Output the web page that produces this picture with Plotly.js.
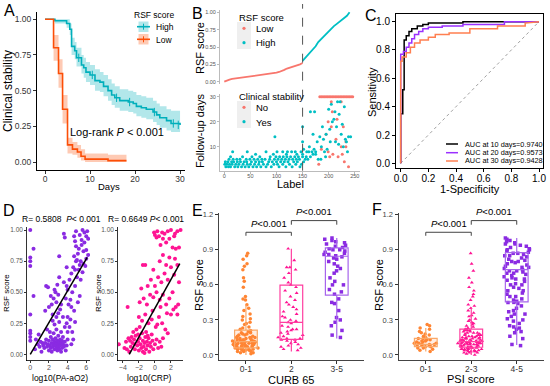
<!DOCTYPE html>
<html><head><meta charset="utf-8">
<script src="https://cdn.plot.ly/plotly-3.0.1.min.js"></script>
<style>html,body{margin:0;padding:0;background:#fff}#chart{width:550px;height:386px}</style>
</head><body><div id="chart"></div>
<script>
// ---------- Panel A: Kaplan-Meier ----------
const kmHighT = [0, 2.2, 4.8, 5.5, 5.9, 6.6, 7.0, 8.1, 8.6, 9.1, 10.0, 11.1, 12.2, 13.0, 14.0, 14.8, 15.5, 16.6, 18.5, 19.6, 20.3, 21.4, 22.5, 24.0, 24.8, 25.5, 27.0, 28.0, 30.0];
const kmHighS = [1.0, 0.99, 0.97, 0.93, 0.81, 0.78, 0.73, 0.68, 0.66, 0.63, 0.61, 0.57, 0.56, 0.53, 0.50, 0.47, 0.45, 0.43, 0.42, 0.41, 0.39, 0.38, 0.37, 0.35, 0.33, 0.31, 0.29, 0.27, 0.26];
const kmHighU = [1.0, 1.0, 1.0, 0.97, 0.87, 0.84, 0.80, 0.75, 0.73, 0.70, 0.68, 0.65, 0.63, 0.61, 0.58, 0.55, 0.53, 0.51, 0.50, 0.49, 0.47, 0.46, 0.45, 0.43, 0.41, 0.39, 0.37, 0.36, 0.35];
const kmHighL = [1.0, 0.97, 0.94, 0.89, 0.75, 0.72, 0.67, 0.62, 0.59, 0.56, 0.54, 0.50, 0.49, 0.46, 0.43, 0.40, 0.38, 0.36, 0.35, 0.34, 0.32, 0.31, 0.30, 0.28, 0.26, 0.24, 0.22, 0.21, 0.20];
const kmLowT = [0, 1.9, 3.0, 3.9, 5.0, 6.1, 7.2, 8.0, 8.9, 14.0, 18.1];
const kmLowS = [1.0, 0.80, 0.62, 0.37, 0.12, 0.09, 0.07, 0.04, 0.02, 0.01, 0.01];
const kmLowU = [1.0, 0.89, 0.72, 0.47, 0.17, 0.14, 0.12, 0.09, 0.06, 0.05, 0.05];
const kmLowL = [1.0, 0.71, 0.52, 0.27, 0.06, 0.05, 0.03, 0.01, 0.0, 0.0, 0.0];
const censorT = [7.5, 10.5, 15.9, 18.8, 24.3, 28.5, 29.6];
const censorS = [0.73, 0.61, 0.45, 0.42, 0.35, 0.27, 0.26];
const kmGroups = ['High', 'Low'];

// ---------- Panel B ----------
const bLowLabel = [0,5,10,15,20,25,30,35,40,45,50,55,60,65,70,75,80,85,90,95,100,105,110,115,120,125,130,135,140,145,150];
const bLowScore = [0.0,0.02,0.03,0.04,0.045,0.05,0.055,0.06,0.065,0.07,0.075,0.08,0.085,0.09,0.095,0.10,0.105,0.11,0.115,0.12,0.13,0.14,0.15,0.17,0.19,0.20,0.21,0.22,0.24,0.25,0.27];
const bHighLabel = [150,155,160,165,170,175,180,185,190,195,200,205,210,215,220,225,230,235,240];
const bHighScore = [0.30,0.34,0.385,0.42,0.46,0.51,0.57,0.61,0.65,0.69,0.73,0.77,0.80,0.83,0.86,0.88,0.91,0.95,1.0];
const bCutoff = 150;
const bNo = [[183,30],[186,30],[189,30],[192,30],[195,30],[198,30],[201,30],[204,30],[207,30],[210,30],[213,30],[216,30],[219,30],[222,30],[225,30],[228,30],[231,30],[234,30],[237,30],[240,30],[243,30],[246,30],
 [205,28],[224,28],[207,24],[216,21],[199,20],[205,18],[214,13],[186,9],[199,8],[224,10],[233,10],[202,6],[208,7],[218,6],[226,7],[181,3],[238,2],[233,12],[230,4],[195,15],[228,18]];
const bYes = [
 [3,2],[8,2],[12,2],[20,2],[26,2],[33,2],[40,2],[47,2],[55,2],[62,2],[70,2],[80,2],[90,2],[105,2],[118,2],[130,2],[145,2],
 [1,3],[5,3],[10,3],[15,3],[22,3],[28,3],[36,3],[44,3],[50,3],[58,3],[66,3],[75,3],[83,3],[95,3],[102,3],[112,3],[125,3],[137,3],[148,3],
 [2,4],[7,4],[14,4],[18,4],[25,4],[31,4],[38,4],[43,4],[52,4],[60,4],[67,4],[73,4],[85,4],[92,4],[100,4],[108,4],[115,4],[122,4],[133,4],[140,4],[152,4],
 [9,5],[17,5],[24,5],[30,5],[42,5],[49,5],[57,5],[64,5],[72,5],[78,5],[87,5],[96,5],[103,5],[110,5],[117,5],[124,5],[131,5],[138,5],[144,5],[155,5],[160,5],
 [12,6],[35,6],[53,6],[68,6],[88,6],[99,6],[106,6],[113,6],[120,6],[127,6],[135,6],[142,6],[150,6],[157,6],[165,6],
 [60,7],[94,7],[119,7],[139,7],[150,7],[170,7],
 [16,8],[44,8],[80,8],[101,8],[112,8],[121,8],[129,8],[136,8],[147,8],[162,8],[175,8],
 [97,14],[150,18],[150,12],[152,9],[158,8],[163,10],[165,24],[170,15],[172,9],[175,7],[178,12],[180,5],[183,14],[186,10],[188,18],[190,13],[192,8],[195,15],[197,9],
 [200,25],[202,17],[205,27],[207,20],[210,21],[212,24],[215,18],[217,28],[220,23],[222,28],[224,15],[226,19],[228,10],[230,26],[232,13],[236,8],[238,14],[242,14],
 [168,8],[185,5],[194,6],[203,12],[213,12],[219,11],[234,12],[173,24]];

// ---------- Panel C: ROC ----------
const roc10X = [0,0,0.015,0.015,0.025,0.025,0.04,0.04,0.06,0.06,0.08,0.08,0.12,0.12,0.16,0.16,0.2,0.2,0.45,0.45,1.0];
const roc10Y = [0,0.35,0.35,0.52,0.52,0.87,0.87,0.90,0.90,0.93,0.93,0.95,0.95,0.97,0.97,0.98,0.98,0.99,0.99,1.0,1.0];
const roc20X = [0,0,0.02,0.02,0.04,0.04,0.06,0.06,0.08,0.08,0.1,0.1,0.13,0.13,0.16,0.16,0.2,0.2,0.3,0.3,0.45,0.45,0.75,0.75,1.0];
const roc20Y = [0,0.77,0.77,0.79,0.79,0.82,0.82,0.85,0.85,0.88,0.88,0.91,0.91,0.93,0.93,0.95,0.95,0.96,0.96,0.97,0.97,0.98,0.98,1.0,1.0];
const roc30X = [0,0,0.01,0.01,0.04,0.04,0.07,0.07,0.1,0.1,0.14,0.14,0.2,0.2,0.25,0.25,0.35,0.35,0.5,0.5,0.7,0.7,0.9,0.9,1.0];
const roc30Y = [0,0.72,0.72,0.75,0.75,0.78,0.78,0.82,0.82,0.85,0.85,0.87,0.87,0.89,0.89,0.91,0.91,0.92,0.92,0.95,0.95,0.97,0.97,0.99,1.0];
const rocLabels = ['AUC at 10 days=0.9740','AUC at 20 days=0.9573','AUC at 30 days=0.9428'];

// ---------- Panel D: correlations ----------
const dPA = [[0,1.0],[0,0.78],[0,0.75],[0,0.71],[0,0.32],[0,0.19],[0,0.17],[0,0.14],[0,0.11],[0.35,0.85],[0.35,0.47],
 [0.5,0.04],[0.6,0.12],[0.8,0.08],[1.0,0.06],[1.1,0.1],[1.3,0.09],[1.4,0.07],[1.5,0.05],[0.9,0.16],[1.2,0.02],
 [1.6,0.09],[1.7,0.12],[1.8,0.06],[1.9,0.08],[2.0,0.03],[2.0,0.11],[2.1,0.07],[2.2,0.14],[2.2,0.05],[2.3,0.09],[2.3,0.02],[2.4,0.12],[2.4,0.06],[2.5,0.08],[2.5,0.17],[2.6,0.04],[2.6,0.1],[2.7,0.13],[2.7,0.07],[2.8,0.05],[2.8,0.09],[2.8,0.2],[2.9,0.11],[2.9,0.03],[3.0,0.08],[3.0,0.15],[3.0,0.06],[3.1,0.1],[3.1,0.04],[3.2,0.12],[3.2,0.07],[3.3,0.02],[3.3,0.09],[3.3,0.18],[3.4,0.11],[3.4,0.05],[3.5,0.08],[3.5,0.14],[3.6,0.06],[3.7,0.1],[3.7,0.22],[3.8,0.03],[3.9,0.07],[4.0,0.12],[3.1,0.26],[2.6,0.24],[3.5,0.3],[3.9,0.25],[4.2,0.22],[4.3,0.28],[4.5,0.18],[4.8,0.26],[4.4,0.08],[4.6,0.12],[4.0,0.18],[1.8,0.2],[2.1,0.18],[2.4,0.27],
 [1.6,0.35],[2.0,0.38],[2.3,0.4],[2.5,0.45],[2.6,0.52],[2.2,0.47],[1.7,0.55],[1.9,0.54],[2.7,0.5],[2.8,0.42],[3.0,0.33],[3.2,0.36],[2.4,0.32],[3.1,0.62],[2.9,0.56],[3.0,0.48],[2.8,0.3],[3.3,0.4],
 [3.8,0.45],[4.0,0.52],[4.2,0.6],[4.4,0.65],[4.1,0.4],[4.5,0.5],[4.6,0.7],[4.8,0.55],[3.6,0.58],[3.9,0.7],[4.3,0.44],[4.7,0.35],[5.0,0.62],[5.1,0.42],[5.3,0.47],[4.9,0.75],[5.2,0.68],[4.0,0.3],[4.4,0.38],[3.9,0.55],
 [3.6,0.97],[3.7,0.94],[4.7,0.95],[4.8,0.91],[4.9,0.99],[5.3,0.96],[5.6,1.0],[5.8,0.98],[6.0,0.95],[6.1,0.99],[6.2,0.93],[4.9,0.87],[5.2,0.85],[5.5,0.88],[5.7,0.83],[6.0,0.84],[6.2,0.8],[4.7,0.79],[5.0,0.76],[5.4,0.75],[5.7,0.73],[5.9,0.71],[5.1,0.81],[5.5,0.92],[5.8,0.9],[5.3,0.72],[4.8,0.68],[5.6,0.66],[6.0,0.77],[5.4,0.6],[3.1,0.79]];
const dCRP = [[-4.5,0.08],[-3.8,0.05],[-3.6,0.1],[-3.2,0.02],[-3.0,0.06],[-3.3,0.13],[-2.8,0.09],[-2.6,0.12],[-2.5,0.04],[-2.4,0.15],[-2.2,0.07],[-2.1,0.1],[-2.0,0.03],[-1.9,0.13],[-1.8,0.08],[-1.7,0.05],[-1.6,0.17],[-1.5,0.11],[-1.4,0.06],[-1.3,0.09],[-1.2,0.14],[-1.1,0.04],[-1.0,0.1],[-0.9,0.07],[-0.8,0.13],[-0.7,0.02],[-0.6,0.09],[-0.5,0.06],[-0.3,0.11],[-0.2,0.04],[0.0,0.08],[0.2,0.12],[0.4,0.05],[-2.7,0.18],[-2.3,0.2],[-1.9,0.22],[-1.5,0.02],[-2.9,0.14],[-3.5,0.04],[-1.1,0.18],[-0.4,0.16],[0.6,0.1],[0.8,0.06],[1.0,0.13],[-3.4,0.38],[-2.1,0.16],[-1.3,0.01],[-0.9,0.15],[-2.5,0.08],[-3.1,0.11],
 [-2.0,0.3],[-1.6,0.27],[-1.2,0.32],[-0.8,0.25],[-0.4,0.28],[0.1,0.22],[0.5,0.3],[0.9,0.25],[1.3,0.2],[1.6,0.17],[2.0,0.32],[2.3,0.36],[-1.9,0.42],[-1.4,0.45],[-1.0,0.4],[-0.6,0.48],[-0.2,0.46],[0.2,0.5],[0.6,0.44],[1.0,0.48],[1.4,0.4],[1.8,0.45],[2.2,0.5],[2.6,0.38],[-1.7,0.53],[-0.3,0.35],[0.7,0.38],[1.5,0.33],[2.8,0.32],[0.3,0.24],
 [-1.5,0.72],[-1.2,0.72],[-0.9,0.55],[-0.5,0.6],[0.0,0.55],[0.4,0.62],[0.8,0.58],[1.2,0.65],[1.6,0.6],[2.0,0.7],[2.4,0.64],[2.8,0.72],[3.0,0.58],[0.6,0.75],[1.0,0.8],[1.8,0.78],[2.5,0.77],[-0.2,0.68],[1.4,0.72],[2.9,0.4],
 [-0.1,0.98],[0.0,0.96],[0.3,0.99],[0.5,0.95],[0.9,0.98],[1.2,0.97],[1.6,0.99],[2.0,1.0],[2.5,0.97],[2.8,0.99],[3.2,1.0],[0.2,0.94],[1.0,0.93],[1.8,0.93],[2.2,0.86],[2.6,0.85],[3.0,0.86],[1.4,0.9],[0.7,0.88],[2.4,0.95]];
const fitPAx = [0.0, 6.1], fitPAy = [0.0, 0.78];
const fitCRPx = [-3.2, 3.1], fitCRPy = [0.0, 0.73];

// ---------- Panel E: CURB 65 ----------
const curbCats = ['0-1','2','3-5'];
const curb01 = [0.01,0.02,0.02,0.03,0.03,0.04,0.04,0.04,0.05,0.05,0.05,0.06,0.06,0.06,0.07,0.07,0.07,0.07,0.08,0.08,0.08,0.08,0.09,0.09,0.09,0.09,0.10,0.10,0.10,0.10,0.11,0.11,0.11,0.11,0.12,0.12,0.12,0.13,0.13,0.13,0.14,0.14,0.15,0.15,0.16,0.16,0.17,0.17,0.18,0.19,0.19,0.20,0.21,0.22,0.23,0.24,0.26,0.27,0.28,0.30,0.31,0.33,0.35,0.38,0.40,0.43,0.47,0.48,0.50,0.58,0.63,0.66,0.73,0.76,0.78,0.82,0.85,0.87,0.05,0.07,0.1,0.12,0.15,0.03,0.08,0.11,0.06,0.09,0.14,0.18];
const curb2 = [0.04,0.05,0.06,0.07,0.08,0.09,0.10,0.11,0.12,0.13,0.14,0.14,0.15,0.16,0.17,0.18,0.19,0.20,0.21,0.22,0.24,0.25,0.27,0.28,0.29,0.30,0.32,0.33,0.35,0.37,0.39,0.41,0.43,0.45,0.47,0.50,0.53,0.55,0.58,0.60,0.62,0.66,0.70,0.73,0.75,0.75,0.91,0.81,0.13,0.22];
const curb35 = [0.15,0.17,0.21,0.25,0.28,0.30,0.32,0.38,0.44,0.48,0.52,0.54,0.56,0.60,0.63,0.66,0.70,0.72,0.74,0.76,0.78,0.80,0.82,0.84,0.85,0.86,0.87,0.88,0.89,0.90,0.91,0.92,0.93,0.94,0.95,0.96,0.97,0.98,0.99,1.0,0.90,0.86,0.83,0.45,0.60];
const curbQ1 = [0.06, 0.134, 0.512], curbMed = [0.114, 0.279, 0.845], curbQ3 = [0.213, 0.597, 0.916];
const curbLo = [0.0, 0.03, 0.142], curbHi = [0.427, 0.91, 1.0];

// ---------- Panel F: PSI ----------
const psiCats = ['0-1','2-3','4-5'];
const psi01 = [0.03,0.04,0.05,0.06,0.06,0.07,0.07,0.08,0.08,0.08,0.09,0.09,0.09,0.10,0.10,0.10,0.11,0.11,0.12,0.12,0.13,0.13,0.14,0.14,0.15,0.16,0.17,0.18,0.19,0.20,0.22,0.23,0.25,0.26];
const psi23 = [0.00,0.01,0.02,0.02,0.03,0.03,0.03,0.04,0.04,0.04,0.05,0.05,0.05,0.05,0.06,0.06,0.06,0.06,0.07,0.07,0.07,0.07,0.08,0.08,0.08,0.08,0.09,0.09,0.09,0.09,0.10,0.10,0.10,0.10,0.11,0.11,0.11,0.11,0.12,0.12,0.12,0.12,0.13,0.13,0.13,0.14,0.14,0.14,0.15,0.15,0.15,0.16,0.16,0.17,0.17,0.18,0.18,0.19,0.19,0.20,0.20,0.21,0.21,0.22,0.22,0.23,0.24,0.25,0.26,0.27,0.28,0.29,0.30,0.31,0.33,0.34,0.36,0.38,0.40,0.42,0.43,0.47,0.50,0.52,0.55,0.58,0.62,0.66,0.72,0.78,0.87,0.05,0.08,0.1,0.12,0.14,0.16,0.07,0.09,0.11,0.13,0.06,0.04,0.15,0.19,0.03,0.02,0.17,0.21,0.1,0.12];
const psi45 = [0.08,0.09,0.14,0.16,0.19,0.20,0.22,0.23,0.25,0.27,0.29,0.31,0.33,0.35,0.37,0.38,0.40,0.42,0.44,0.45,0.46,0.47,0.48,0.50,0.52,0.53,0.55,0.57,0.58,0.60,0.61,0.63,0.64,0.65,0.66,0.67,0.68,0.69,0.70,0.71,0.72,0.72,0.73,0.74,0.75,0.76,0.77,0.78,0.79,0.80,0.81,0.82,0.83,0.84,0.85,0.86,0.87,0.87,0.88,0.89,0.90,0.91,0.92,0.93,0.94,0.95,0.96,0.97,0.98,0.99,1.0,0.95,0.9,0.85,0.8,0.75,0.7,0.65,0.6,0.55,0.5,0.45,0.3,0.24,0.35];
const psiQ1 = [0.071, 0.066, 0.455], psiMed = [0.091, 0.114, 0.73], psiQ3 = [0.142, 0.222, 0.876];
const psiLo = [0.03, 0.0, 0.085], psiHi = [0.23, 0.41, 1.0];

// ---------- styling ----------
const FONT = 'Liberation Sans, Arial, sans-serif';
const teal = '#00AFBB', red = '#FC4E07';
const tealFill = 'rgba(0,175,187,0.3)', redFill = 'rgba(252,78,7,0.3)';
const ggRed = '#F8766D', ggTeal = '#00BFC4';
const rocCol = ['#000000', '#9B30FF', '#FF7F50'];
const grpCol = ['#FF8533', '#FF1493', '#8A2BE2'];
const grpBoxLine = ['#F9A868', '#FF3FA0', '#A765EC'];
const grpFill = ['rgba(255,133,51,0.15)', 'rgba(255,255,255,0.0)', 'rgba(255,255,255,0.0)'];
const grpSym = ['circle', 'triangle-up', 'square'];

const W = 550, H = 386;
const dx = (a, b) => [a / W, b / W];
const dy = (top, bot) => [1 - bot / H, 1 - top / H];

const traces = [];
// Panel A
traces.push({x: kmHighT, y: kmHighL, xaxis: 'x', yaxis: 'y', mode: 'lines', line: {width: 0, shape: 'hv'}, hoverinfo: 'skip'});
traces.push({x: kmHighT, y: kmHighU, xaxis: 'x', yaxis: 'y', mode: 'lines', line: {width: 0, shape: 'hv'}, fill: 'tonexty', fillcolor: tealFill, hoverinfo: 'skip'});
traces.push({x: kmLowT, y: kmLowL, xaxis: 'x', yaxis: 'y', mode: 'lines', line: {width: 0, shape: 'hv'}, hoverinfo: 'skip'});
traces.push({x: kmLowT, y: kmLowU, xaxis: 'x', yaxis: 'y', mode: 'lines', line: {width: 0, shape: 'hv'}, fill: 'tonexty', fillcolor: redFill, hoverinfo: 'skip'});
traces.push({x: kmHighT, y: kmHighS, xaxis: 'x', yaxis: 'y', mode: 'lines', name: kmGroups[0], line: {color: teal, width: 1.6, shape: 'hv'}});
traces.push({x: kmLowT, y: kmLowS, xaxis: 'x', yaxis: 'y', mode: 'lines', name: kmGroups[1], line: {color: red, width: 1.6, shape: 'hv'}});
traces.push({x: censorT, y: censorS, xaxis: 'x', yaxis: 'y', mode: 'markers', marker: {symbol: 'line-ns-open', size: 6, color: teal, line: {color: teal, width: 1}}});

// Panel B top
traces.push({x: bLowLabel, y: bLowScore, xaxis: 'x2', yaxis: 'y2', mode: 'lines', name: 'Low', line: {color: ggRed, width: 1.8}});
traces.push({x: bHighLabel, y: bHighScore, xaxis: 'x2', yaxis: 'y2', mode: 'lines', name: 'High', line: {color: ggTeal, width: 1.8}});
// Panel B bottom
traces.push({x: bNo.map(p => p[0]), y: bNo.map(p => p[1]), xaxis: 'x3', yaxis: 'y3', mode: 'markers', name: 'No', marker: {color: ggRed, size: 3}});
traces.push({x: bYes.map(p => p[0]), y: bYes.map(p => p[1]), xaxis: 'x3', yaxis: 'y3', mode: 'markers', name: 'Yes', marker: {color: ggTeal, size: 3}});

// Panel C
traces.push({x: [0, 1], y: [0, 1], xaxis: 'x4', yaxis: 'y4', mode: 'lines', line: {color: '#888', width: 0.8, dash: 'dot'}});
traces.push({x: roc10X, y: roc10Y, xaxis: 'x4', yaxis: 'y4', mode: 'lines', name: rocLabels[0], line: {color: rocCol[0], width: 1.5}});
traces.push({x: roc20X, y: roc20Y, xaxis: 'x4', yaxis: 'y4', mode: 'lines', name: rocLabels[1], line: {color: rocCol[1], width: 1.5}});
traces.push({x: roc30X, y: roc30Y, xaxis: 'x4', yaxis: 'y4', mode: 'lines', name: rocLabels[2], line: {color: rocCol[2], width: 1.5}});

// Panel D
traces.push({x: dPA.map(p => p[0]), y: dPA.map(p => p[1]), xaxis: 'x5', yaxis: 'y5', mode: 'markers', marker: {color: '#8A2BE2', size: 4}});
traces.push({x: fitPAx, y: fitPAy, xaxis: 'x5', yaxis: 'y5', mode: 'lines', line: {color: '#000', width: 1.5}});
traces.push({x: dCRP.map(p => p[0]), y: dCRP.map(p => p[1]), xaxis: 'x6', yaxis: 'y6', mode: 'markers', marker: {color: '#FF1493', size: 4}});
traces.push({x: fitCRPx, y: fitCRPy, xaxis: 'x6', yaxis: 'y6', mode: 'lines', line: {color: '#000', width: 1.5}});

// Panels E & F
function boxPanel(cats, groups, q1, med, q3, lo, hi, xa, ya) {
  groups.forEach((g, i) => {
    traces.push({type: 'box', x0: cats[i], y: g, xaxis: xa, yaxis: ya, boxpoints: 'all', jitter: 1, pointpos: 0, width: 0.6,
      fillcolor: 'rgba(0,0,0,0)', line: {color: 'rgba(0,0,0,0)', width: 0},
      marker: {color: grpCol[i], size: 3.5, symbol: grpSym[i]}, hoverinfo: 'y'});
  });
  groups.forEach((g, i) => {
    traces.push({type: 'box', x: [cats[i]], q1: [q1[i]], median: [med[i]], q3: [q3[i]], lowerfence: [lo[i]], upperfence: [hi[i]],
      xaxis: xa, yaxis: ya, width: 0.5, boxpoints: false, fillcolor: grpFill[i], line: {color: grpBoxLine[i], width: 1.2},
      whiskerwidth: 0});
  });
}
boxPanel(curbCats, [curb01, curb2, curb35], curbQ1, curbMed, curbQ3, curbLo, curbHi, 'x7', 'y7');
boxPanel(psiCats, [psi01, psi23, psi45], psiQ1, psiMed, psiQ3, psiLo, psiHi, 'x8', 'y8');

// ---------- layout ----------
const baseAx = {showgrid: false, zeroline: false, showline: true, linecolor: '#000', linewidth: 1, ticks: 'outside', ticklen: 3, tickwidth: 1, tickcolor: '#333', tickfont: {family: FONT, size: 8.5, color: '#333'}, fixedrange: true};
const ax = (o) => Object.assign({}, baseAx, o);
const smallB = {family: FONT, size: 5.5, color: '#555'};

const layout = {
  width: W, height: H, margin: {l: 0, r: 0, t: 0, b: 0, pad: 0}, paper_bgcolor: '#fff', plot_bgcolor: 'rgba(0,0,0,0)',
  font: {family: FONT}, boxmode: 'overlay', showlegend: false,
  // A
  xaxis: ax({domain: dx(37, 185), range: [-1.78, 31.1], tickvals: [0, 10, 20, 30], ticklabelstandoff: -2, anchor: 'y'}),
  yaxis: ax({domain: dy(12, 170), range: [-0.056, 1.051], tickvals: [0, 0.25, 0.5, 0.75, 1], tickformat: '.2f', anchor: 'x'}),
  // B top
  xaxis2: ax({domain: dx(220, 360), range: [-8.2, 260], showline: false, ticks: '', showticklabels: false, anchor: 'y2'}),
  yaxis2: ax({domain: dy(10, 84), range: [-0.033, 1.033], tickvals: [0, 0.25, 0.5, 0.75, 1], tickformat: '.2f', linecolor: '#bbb', tickcolor: '#bbb', ticklen: 2, tickfont: smallB, anchor: 'x2'}),
  // B bottom
  xaxis3: ax({domain: dx(220, 360), range: [-8.2, 260], tickvals: [0, 50, 100, 150, 200, 250], linecolor: '#bbb', tickcolor: '#bbb', ticklen: 2, tickfont: smallB, ticklabelstandoff: -2, anchor: 'y3'}),
  yaxis3: ax({domain: dy(94.3, 170.7), range: [0.4, 31.0], tickvals: [10, 20, 30], linecolor: '#bbb', tickcolor: '#bbb', ticklen: 2, tickfont: smallB, anchor: 'x3'}),
  // C
  xaxis4: ax({domain: dx(396, 543.3), range: [-0.034, 1.031], tickvals: [0, 0.2, 0.4, 0.6, 0.8, 1.0], tickformat: '.1f', mirror: true, tickfont: {family: FONT, size: 10, color: '#000'}, tickcolor: '#000', ticklabelstandoff: -2, anchor: 'y4'}),
  yaxis4: ax({domain: dy(14, 168.3), range: [-0.035, 1.054], tickvals: [0, 0.2, 0.4, 0.6, 0.8, 1.0], tickformat: '.1f', mirror: true, tickfont: {family: FONT, size: 10, color: '#000'}, tickcolor: '#000', anchor: 'x4'}),
  // D
  xaxis5: ax({domain: dx(27, 90), range: [-0.35, 6.4], tickvals: [0, 2, 4, 6], linewidth: 0.8, tickfont: {family: FONT, size: 7, color: '#555'}, ticklen: 2, ticklabelstandoff: -2, anchor: 'y5'}),
  yaxis5: ax({domain: dy(227, 360.5), range: [-0.05, 1.025], tickvals: [0, 0.25, 0.5, 0.75, 1], tickformat: '.2f', linewidth: 0.8, tickfont: {family: FONT, size: 6.5, color: '#555'}, ticklen: 2, anchor: 'x5'}),
  xaxis6: ax({domain: dx(118, 183), range: [-4.6, 3.5], tickvals: [-4, -2, 0, 2], linewidth: 0.8, tickfont: {family: FONT, size: 7, color: '#555'}, ticklen: 2, ticklabelstandoff: -2, anchor: 'y6'}),
  yaxis6: ax({domain: dy(227, 360.5), range: [-0.05, 1.025], tickvals: [0, 0.25, 0.5, 0.75, 1], tickformat: '.2f', linewidth: 0.8, tickfont: {family: FONT, size: 6.5, color: '#555'}, ticklen: 2, anchor: 'x6'}),
  // E
  xaxis7: ax({domain: dx(218.7, 364), type: 'category', categoryarray: curbCats, categoryorder: 'array', range: [-0.6, 2.6], linecolor: '#444', tickfont: {family: FONT, size: 8.5, color: '#333'}, ticklabelstandoff: -2, anchor: 'y7'}),
  yaxis7: ax({domain: dy(213, 360), range: [-0.043, 1.215], tickvals: [0, 0.3, 0.6, 0.9, 1.2], tickformat: '.1f', linecolor: '#444', tickfont: {family: FONT, size: 7.5, color: '#444'}, anchor: 'x7'}),
  // F
  xaxis8: ax({domain: dx(398.5, 544), type: 'category', categoryarray: psiCats, categoryorder: 'array', range: [-0.6, 2.6], linecolor: '#444', tickfont: {family: FONT, size: 8.5, color: '#333'}, ticklabelstandoff: -2, anchor: 'y8'}),
  yaxis8: ax({domain: dy(213, 360), range: [-0.043, 1.215], tickvals: [0, 0.3, 0.6, 0.9, 1.2], tickformat: '.1f', linecolor: '#444', tickfont: {family: FONT, size: 7.5, color: '#444'}, anchor: 'x8'}),

  shapes: [
    {type: 'line', xref: 'x3', yref: 'paper', x0: bCutoff, x1: bCutoff, y0: 1 - 170.7 / H, y1: 1 - 4 / H, line: {color: '#555', width: 1, dash: 'dash'}},
    {type: 'path', xref: 'x7', yref: 'y7', path: 'M 0,1.02 L 0,1.05 L 1,1.05 L 1,1.02', line: {color: '#444', width: 1}},
    {type: 'path', xref: 'x7', yref: 'y7', path: 'M 1,1.115 L 1,1.15 L 2,1.15 L 2,1.115', line: {color: '#444', width: 1}},
    {type: 'path', xref: 'x8', yref: 'y8', path: 'M 0,1.02 L 0,1.05 L 1,1.05 L 1,1.02', line: {color: '#444', width: 1}},
    {type: 'path', xref: 'x8', yref: 'y8', path: 'M 1,1.115 L 1,1.15 L 2,1.15 L 2,1.115', line: {color: '#444', width: 1}}
  ],
  annotations: []
};

function txt(t, x, y, size, opts) {
  layout.annotations.push(Object.assign({text: t, x: x / W, y: 1 - y / H, xref: 'paper', yref: 'paper', showarrow: false, xanchor: 'center', yanchor: 'middle', font: {family: FONT, size: size, color: '#000'}}, opts || {}));
}
const L = {xanchor: 'left'};
function pLine(x0, y0, x1, y1, color, width) {
  layout.shapes.push({type: 'line', xref: 'paper', yref: 'paper', x0: x0 / W, y0: 1 - y0 / H, x1: x1 / W, y1: 1 - y1 / H, line: {color: color, width: width}});
}
function pRect(x0, y0, x1, y1, fill) {
  layout.shapes.push({type: 'rect', xref: 'paper', yref: 'paper', x0: x0 / W, y0: 1 - y1 / H, x1: x1 / W, y1: 1 - y0 / H, fillcolor: fill, line: {width: 0}, layer: 'below'});
}
function pDot(cx, cy, r, color) {
  layout.shapes.push({type: 'circle', xref: 'paper', yref: 'paper', x0: (cx - r) / W, x1: (cx + r) / W, y0: 1 - (cy + r) / H, y1: 1 - (cy - r) / H, fillcolor: color, line: {width: 0}});
}

// panel letters
txt('A', 9, 11, 16); txt('B', 197, 13, 16); txt('C', 371, 15, 16);
txt('D', 9, 210, 16); txt('E', 197, 210, 16); txt('F', 377, 209, 16);
// A
txt('Clinical stability', 8, 91, 12, {textangle: -90});
txt('Days', 109, 187, 9.5);
txt('Log-rank <i>P</i> &lt; 0.001', 117, 132, 11);
// A legend
txt('RSF score', 154, 15, 8.5);
pRect(138.5, 21.5, 148.5, 32, tealFill); pLine(137, 26.7, 150, 26.7, teal, 1.6); pLine(143.5, 23.7, 143.5, 29.7, teal, 1);
pRect(138.5, 34, 148.5, 44.5, redFill); pLine(137, 39.3, 150, 39.3, red, 1.6); pLine(143.5, 36.3, 143.5, 42.3, red, 1);
txt(kmGroups[0], 154, 27, 8.5, L); txt(kmGroups[1], 154, 39.5, 8.5, L);
// B
txt('RSF score', 200, 48, 11, {textangle: -90});
txt('Follow-up days', 200, 131, 11, {textangle: -90});
txt('Label', 290, 184, 11);
txt('RSF score', 237, 17, 9.5, L);
pRect(237, 22, 251, 49, '#EFEFEF'); pDot(244, 28.3, 1.6, ggRed); pDot(244, 42.7, 1.6, ggTeal);
txt('Low', 254, 28.5, 9.5, L); txt('High', 254, 43, 9.5, L);
txt('Clinical stability', 237, 96, 9.5, L);
pRect(237, 101, 251, 128, '#EFEFEF'); pDot(244, 107.3, 1.6, ggRed); pDot(244, 121.7, 1.6, ggTeal);
txt('No', 254, 107.5, 9.5, L); txt('Yes', 254, 122, 9.5, L);
// C
txt('Sensitivity', 372, 92, 11, {textangle: -90});
txt('1-Specificity', 470, 189, 11);
[144, 152.7, 161].forEach((yy, i) => { pLine(446, yy, 458, yy, rocCol[i], 1.5); txt(rocLabels[i], 463, yy, 7.3, L); });
// D
txt('R= 0.5808  <i>P</i>&lt; 0.001', 61, 219, 8.5);
txt('R= 0.6649 <i>P</i>&lt; 0.001', 146, 219, 8.5);
txt('RSF score', 6, 293, 8, {textangle: -90});
txt('RSF score', 98, 293, 8, {textangle: -90});
txt('log10(PA-aO2)', 60, 378, 8.5);
txt('log10(CRP)', 149, 378, 8.5);
// E
txt('RSF score', 199, 285, 11, {textangle: -90});
txt('CURB 65', 291, 380, 11);
// F
txt('RSF score', 379, 285, 11, {textangle: -90});
txt('PSI score', 471, 379, 11);
// p-value labels anchored to brackets
[['x7', 'y7'], ['x8', 'y8']].forEach(([xa, ya]) => {
  layout.annotations.push({text: '<i>P</i>&lt;0.001', xref: xa, yref: ya, x: 0.5, y: 1.05, yshift: 9, showarrow: false, font: {family: FONT, size: 9.5, color: '#000'}});
  layout.annotations.push({text: '<i>P</i>&lt;0.001', xref: xa, yref: ya, x: 1.5, y: 1.15, yshift: 9, showarrow: false, font: {family: FONT, size: 9.5, color: '#000'}});
});

Plotly.newPlot('chart', traces, layout, {staticPlot: true, displayModeBar: false});
</script></body></html>
